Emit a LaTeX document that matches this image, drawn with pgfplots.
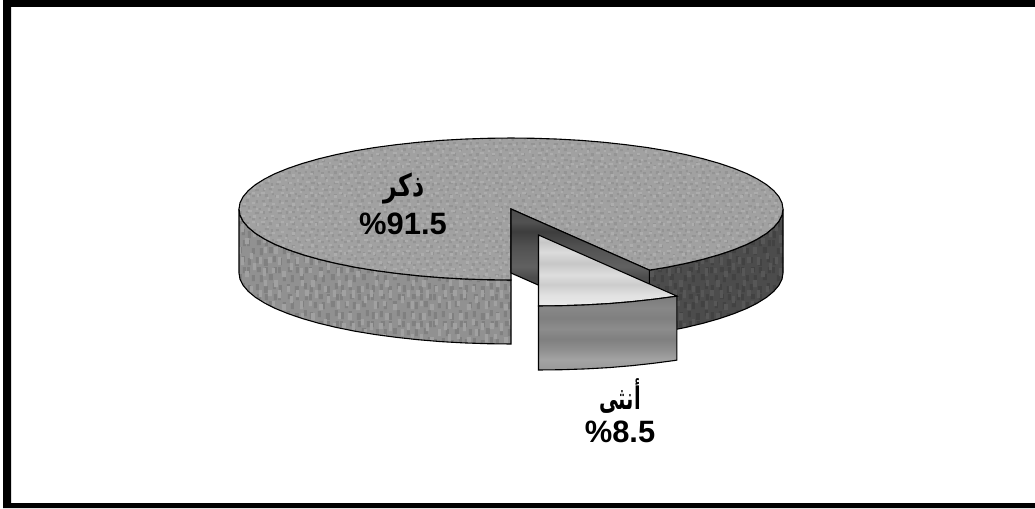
\documentclass[border=0pt]{standalone}
\usepackage{pgfplots}
\usepackage{pgfplotstable}
\usepackage{fontspec}
\pgfplotsset{compat=1.18}
\usetikzlibrary{patterns}
\setmainfont{Liberation Sans}
\newfontfamily\arabicfont[Script=Arabic]{DejaVu Sans}
\TeXXeTstate=1

% Speckle tiles for the grainy surfaces
\pgfdeclarepatternformonly{grainA}{\pgfqpoint{0pt}{0pt}}{\pgfqpoint{23pt}{23pt}}{\pgfqpoint{23pt}{23pt}}{%
  \pgfpathrectangle{\pgfqpoint{1pt}{2pt}}{\pgfqpoint{3pt}{2pt}}
  \pgfpathrectangle{\pgfqpoint{7pt}{0pt}}{\pgfqpoint{2pt}{2pt}}
  \pgfpathrectangle{\pgfqpoint{13pt}{3pt}}{\pgfqpoint{4pt}{2pt}}
  \pgfpathrectangle{\pgfqpoint{19pt}{1pt}}{\pgfqpoint{2pt}{3pt}}
  \pgfpathrectangle{\pgfqpoint{4pt}{7pt}}{\pgfqpoint{2pt}{3pt}}
  \pgfpathrectangle{\pgfqpoint{10pt}{8pt}}{\pgfqpoint{3pt}{2pt}}
  \pgfpathrectangle{\pgfqpoint{17pt}{8pt}}{\pgfqpoint{3pt}{3pt}}
  \pgfpathrectangle{\pgfqpoint{0pt}{13pt}}{\pgfqpoint{3pt}{2pt}}
  \pgfpathrectangle{\pgfqpoint{7pt}{14pt}}{\pgfqpoint{2pt}{2pt}}
  \pgfpathrectangle{\pgfqpoint{13pt}{13pt}}{\pgfqpoint{3pt}{3pt}}
  \pgfpathrectangle{\pgfqpoint{20pt}{15pt}}{\pgfqpoint{2pt}{2pt}}
  \pgfpathrectangle{\pgfqpoint{3pt}{19pt}}{\pgfqpoint{4pt}{2pt}}
  \pgfpathrectangle{\pgfqpoint{11pt}{19pt}}{\pgfqpoint{2pt}{3pt}}
  \pgfpathrectangle{\pgfqpoint{17pt}{20pt}}{\pgfqpoint{3pt}{2pt}}
  \pgfusepath{fill}}
\pgfdeclarepatternformonly{grainB}{\pgfqpoint{0pt}{0pt}}{\pgfqpoint{29pt}{29pt}}{\pgfqpoint{29pt}{29pt}}{%
  \pgfpathrectangle{\pgfqpoint{4pt}{0pt}}{\pgfqpoint{2pt}{2pt}}
  \pgfpathrectangle{\pgfqpoint{11pt}{2pt}}{\pgfqpoint{3pt}{2pt}}
  \pgfpathrectangle{\pgfqpoint{22pt}{1pt}}{\pgfqpoint{3pt}{3pt}}
  \pgfpathrectangle{\pgfqpoint{0pt}{6pt}}{\pgfqpoint{3pt}{2pt}}
  \pgfpathrectangle{\pgfqpoint{8pt}{8pt}}{\pgfqpoint{2pt}{3pt}}
  \pgfpathrectangle{\pgfqpoint{17pt}{7pt}}{\pgfqpoint{4pt}{2pt}}
  \pgfpathrectangle{\pgfqpoint{25pt}{9pt}}{\pgfqpoint{2pt}{2pt}}
  \pgfpathrectangle{\pgfqpoint{3pt}{13pt}}{\pgfqpoint{3pt}{3pt}}
  \pgfpathrectangle{\pgfqpoint{12pt}{14pt}}{\pgfqpoint{3pt}{2pt}}
  \pgfpathrectangle{\pgfqpoint{21pt}{15pt}}{\pgfqpoint{3pt}{2pt}}
  \pgfpathrectangle{\pgfqpoint{7pt}{20pt}}{\pgfqpoint{2pt}{2pt}}
  \pgfpathrectangle{\pgfqpoint{16pt}{21pt}}{\pgfqpoint{3pt}{3pt}}
  \pgfpathrectangle{\pgfqpoint{26pt}{22pt}}{\pgfqpoint{2pt}{3pt}}
  \pgfpathrectangle{\pgfqpoint{1pt}{25pt}}{\pgfqpoint{4pt}{2pt}}
  \pgfpathrectangle{\pgfqpoint{11pt}{26pt}}{\pgfqpoint{2pt}{2pt}}
  \pgfpathrectangle{\pgfqpoint{21pt}{25pt}}{\pgfqpoint{3pt}{2pt}}
  \pgfusepath{fill}}
% Taller cells for the rim of the disc
\pgfdeclarepatternformonly{grainC}{\pgfqpoint{0pt}{0pt}}{\pgfqpoint{31pt}{27pt}}{\pgfqpoint{31pt}{27pt}}{%
  \pgfpathrectangle{\pgfqpoint{1pt}{1pt}}{\pgfqpoint{3pt}{7pt}}
  \pgfpathrectangle{\pgfqpoint{9pt}{3pt}}{\pgfqpoint{3pt}{6pt}}
  \pgfpathrectangle{\pgfqpoint{17pt}{0pt}}{\pgfqpoint{4pt}{7pt}}
  \pgfpathrectangle{\pgfqpoint{26pt}{4pt}}{\pgfqpoint{3pt}{6pt}}
  \pgfpathrectangle{\pgfqpoint{5pt}{12pt}}{\pgfqpoint{3pt}{6pt}}
  \pgfpathrectangle{\pgfqpoint{13pt}{11pt}}{\pgfqpoint{3pt}{7pt}}
  \pgfpathrectangle{\pgfqpoint{22pt}{13pt}}{\pgfqpoint{4pt}{6pt}}
  \pgfpathrectangle{\pgfqpoint{0pt}{20pt}}{\pgfqpoint{3pt}{6pt}}
  \pgfpathrectangle{\pgfqpoint{10pt}{21pt}}{\pgfqpoint{4pt}{5pt}}
  \pgfpathrectangle{\pgfqpoint{18pt}{20pt}}{\pgfqpoint{3pt}{6pt}}
  \pgfpathrectangle{\pgfqpoint{27pt}{20pt}}{\pgfqpoint{3pt}{6pt}}
  \pgfusepath{fill}}
\pgfdeclarepatternformonly{grainD}{\pgfqpoint{0pt}{0pt}}{\pgfqpoint{37pt}{33pt}}{\pgfqpoint{37pt}{33pt}}{%
  \pgfpathrectangle{\pgfqpoint{5pt}{2pt}}{\pgfqpoint{3pt}{8pt}}
  \pgfpathrectangle{\pgfqpoint{14pt}{5pt}}{\pgfqpoint{3pt}{5pt}}
  \pgfpathrectangle{\pgfqpoint{24pt}{1pt}}{\pgfqpoint{4pt}{6pt}}
  \pgfpathrectangle{\pgfqpoint{32pt}{8pt}}{\pgfqpoint{3pt}{7pt}}
  \pgfpathrectangle{\pgfqpoint{1pt}{14pt}}{\pgfqpoint{3pt}{7pt}}
  \pgfpathrectangle{\pgfqpoint{10pt}{15pt}}{\pgfqpoint{4pt}{6pt}}
  \pgfpathrectangle{\pgfqpoint{20pt}{13pt}}{\pgfqpoint{3pt}{8pt}}
  \pgfpathrectangle{\pgfqpoint{29pt}{19pt}}{\pgfqpoint{3pt}{6pt}}
  \pgfpathrectangle{\pgfqpoint{6pt}{25pt}}{\pgfqpoint{3pt}{6pt}}
  \pgfpathrectangle{\pgfqpoint{16pt}{24pt}}{\pgfqpoint{4pt}{7pt}}
  \pgfusepath{fill}}

% Banded greys, bottom to top of each face
\pgfdeclareverticalshading{sliceside}{100bp}{%
  color(0bp)=(black!40);color(25bp)=(black!40);
  color(32bp)=(black!36);color(39bp)=(black!44);color(46bp)=(black!50);
  color(53bp)=(black!45);color(60bp)=(black!50);color(67bp)=(black!47);
  color(75bp)=(black!52);color(100bp)=(black!52)}
\pgfdeclareverticalshading{slicetop}{100bp}{%
  color(0bp)=(black!8);color(25bp)=(black!8);
  color(33bp)=(black!12);color(40bp)=(black!20);color(47bp)=(black!13);
  color(55bp)=(black!22);color(63bp)=(black!14);color(70bp)=(black!22);
  color(75bp)=(black!16);color(100bp)=(black!16)}
\pgfdeclareverticalshading{wallface}{100bp}{%
  color(0bp)=(black!72);color(25bp)=(black!72);
  color(48bp)=(black!70);color(52bp)=(black!62);color(60bp)=(black!68);
  color(66bp)=(black!76);color(70bp)=(black!68);
  color(75bp)=(black!70);color(100bp)=(black!70)}

% Outlines of the disc, in image pixels with y running downward
\pgfplotstableread{
x y
649.4 270.1
667 267.2
685.8 263.4
703.3 259.2
719.4 254.6
733.8 249.7
746.6 244.5
757.5 239
766.6 233.3
773.7 227.4
778.9 221.3
782 215.2
783 209
782 202.8
778.9 196.7
773.7 190.6
766.6 184.7
757.5 179
746.6 173.5
733.8 168.3
719.4 163.4
703.3 158.8
685.8 154.6
667 150.8
647 147.5
625.9 144.7
604 142.3
581.4 140.4
558.2 139.1
534.7 138.3
511 138
487.3 138.3
463.8 139.1
440.6 140.4
418 142.3
396.1 144.7
375 147.5
355 150.8
336.2 154.6
318.7 158.8
302.6 163.4
288.2 168.3
275.4 173.5
264.5 179
255.4 184.7
248.3 190.6
243.1 196.7
240 202.8
239 209
240 215.2
243.1 221.3
248.3 227.4
255.4 233.3
264.5 239
275.4 244.5
288.2 249.7
302.6 254.6
318.7 259.2
336.2 263.4
355 267.2
375 270.5
396.1 273.3
418 275.7
440.6 277.6
463.8 278.9
487.3 279.7
511 280
511 209
}\disctop
\pgfplotstableread{
x y
239 209
240 215.2
243.1 221.3
248.3 227.4
255.4 233.3
264.5 239
275.4 244.5
288.2 249.7
302.6 254.6
318.7 259.2
336.2 263.4
355 267.2
375 270.5
396.1 273.3
418 275.7
440.6 277.6
463.8 278.9
487.3 279.7
511 280
511 344
487.3 343.7
463.8 342.9
440.6 341.6
418 339.7
396.1 337.3
375 334.5
355 331.2
336.2 327.4
318.7 323.2
302.6 318.6
288.2 313.7
275.4 308.5
264.5 303
255.4 297.3
248.3 291.4
243.1 285.3
240 279.2
239 273
}\discleftrim
\pgfplotstableread{
x y
649.4 270.1
667 267.2
685.8 263.4
703.3 259.2
719.4 254.6
733.8 249.7
746.6 244.5
757.5 239
766.6 233.3
773.7 227.4
778.9 221.3
782 215.2
783 209
783 273
782 279.2
778.9 285.3
773.7 291.4
766.6 297.3
757.5 303
746.6 308.5
733.8 313.7
719.4 318.6
703.3 323.2
685.8 327.4
667 331.2
649.4 334.1
}\discrightrim
\pgfplotstableread{
x y
511 209
649.4 270.1
649.4 334.1
511 273
}\notchwall
% The 8.5 per cent sector, moved out of the disc
\pgfplotstableread{
x y
538.5 235
676.9 296.1
674.5 296.5
653.4 299.3
631.5 301.7
608.9 303.6
585.7 304.9
562.2 305.7
538.5 306
}\slicetopface
\pgfplotstableread{
x y
538.5 306
562.2 305.7
585.7 304.9
608.9 303.6
631.5 301.7
653.4 299.3
674.5 296.5
676.9 296.1
676.9 360.1
674.5 360.5
653.4 363.3
631.5 365.7
608.9 367.6
585.7 368.9
562.2 369.7
538.5 370
}\slicerim

\begin{document}
\begin{tikzpicture}
\begin{axis}[
  scale only axis, width=1035bp, height=508bp,
  xmin=0, xmax=1035, ymin=0, ymax=508, y dir=reverse,
  hide axis, clip=true,
]
  % White page and heavy black border
  \addplot[fill=white, draw=none] coordinates {(0,0) (1035,0) (1035,508) (0,508)} -- cycle;
  \addplot[fill=black, draw=none] coordinates {(3,0) (1035,0) (1035,7) (11,7) (11,503) (1035,503) (1035,508) (3,508)} -- cycle;

  % Rim of the disc, left and right of the gap
  \addplot[fill=black!43, draw=none] table {\discleftrim} -- cycle;
  \addplot[pattern=grainC, pattern color=black!50, draw=none] table {\discleftrim} -- cycle;
  \addplot[pattern=grainD, pattern color=black!37, draw=none] table {\discleftrim} -- cycle;
  \addplot[draw=black, line width=1.1pt] table {\discleftrim} -- cycle;

  \addplot[fill=black!70, draw=none] table {\discrightrim} -- cycle;
  \addplot[pattern=grainC, pattern color=black!74, draw=none] table {\discrightrim} -- cycle;
  \addplot[pattern=grainD, pattern color=black!66, draw=none] table {\discrightrim} -- cycle;
  \addplot[draw=black, line width=1.1pt] table {\discrightrim} -- cycle;

  % Face of the disc
  \addplot[fill=black!37, draw=none] table {\disctop} -- cycle;
  \addplot[pattern=grainA, pattern color=black!42, draw=none] table {\disctop} -- cycle;
  \addplot[pattern=grainB, pattern color=black!32, draw=none] table {\disctop} -- cycle;
  \addplot[draw=black, line width=1.1pt] table {\disctop} -- cycle;

  % Inner wall of the gap
  \addplot[shade, shading=wallface, draw=none] table {\notchwall} -- cycle;
  \addplot[draw=black, line width=1.1pt] table {\notchwall} -- cycle;

  % Detached sector
  \addplot[shade, shading=slicetop, draw=none] table {\slicetopface} -- cycle;
  \addplot[draw=black, line width=1.1pt] table {\slicetopface} -- cycle;
  \addplot[shade, shading=sliceside, draw=none] table {\slicerim} -- cycle;
  \addplot[draw=black, line width=1.1pt] table {\slicerim} -- cycle;

  % Labels
  \node[font=\arabicfont\bfseries\fontsize{25}{28}\selectfont] at (axis cs:404,188) {\scalebox{0.95}[1.25]{\beginR ذكر\endR}};
  \node[font=\bfseries\fontsize{31}{34}\selectfont] at (axis cs:403,224) {\%91.5};
  \node[font=\arabicfont\bfseries\fontsize{25}{28}\selectfont] at (axis cs:620,396) {\scalebox{0.78}[1.25]{\beginR أنثى\endR}};
  \node[font=\bfseries\fontsize{31}{34}\selectfont] at (axis cs:620,432) {\%8.5};
\end{axis}
\end{tikzpicture}
\end{document}
